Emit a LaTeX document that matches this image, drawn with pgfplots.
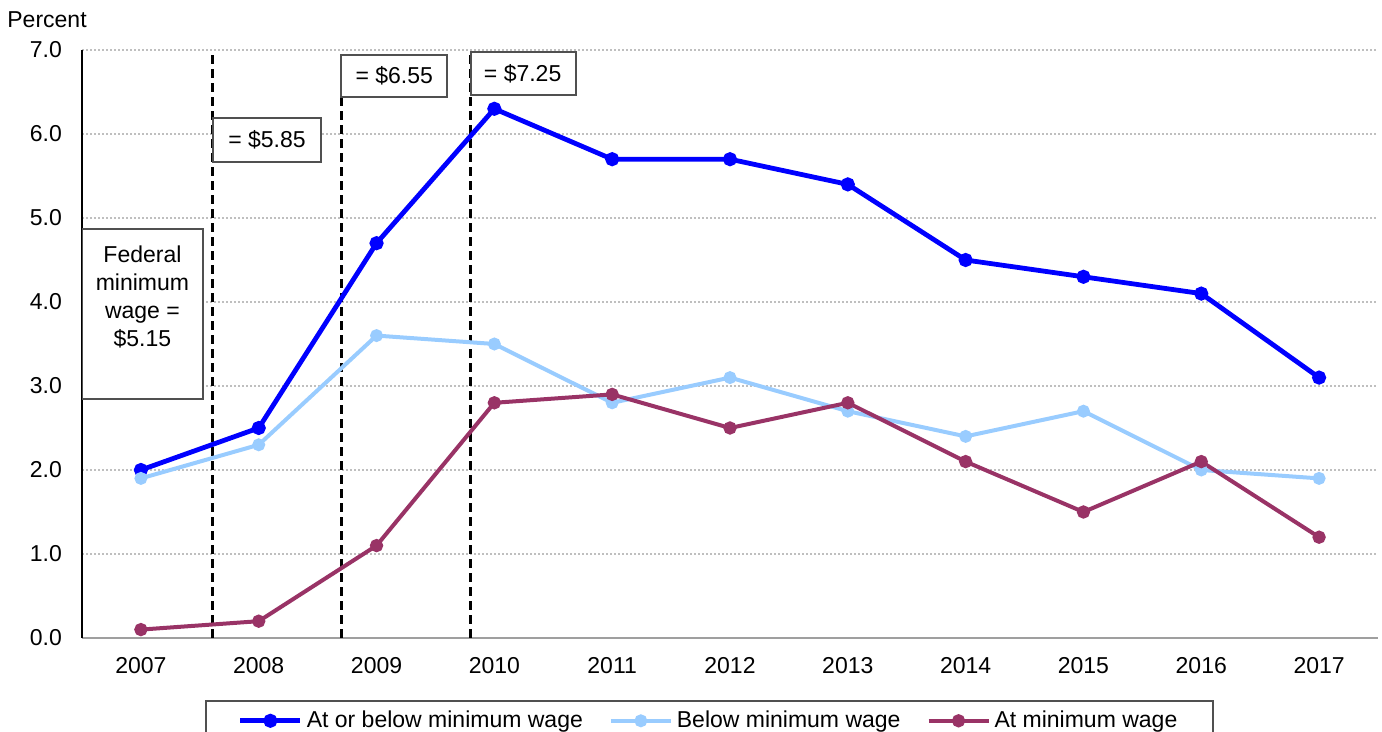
\documentclass[border=0pt]{standalone}
\usepackage{fontspec}
\setmainfont{Liberation Sans}
\usepackage{pgfplots}
\pgfplotsset{compat=1.18}
\definecolor{cblue}{RGB}{0,0,255}
\definecolor{clight}{RGB}{153,204,255}
\definecolor{cplum}{RGB}{153,51,102}
\definecolor{boxgray}{RGB}{80,80,80}
\pgfplotstableread{
year atbelow below at
2007 2.0 1.9 0.1
2008 2.5 2.3 0.2
2009 4.7 3.6 1.1
2010 6.3 3.5 2.8
2011 5.7 2.8 2.9
2012 5.7 3.1 2.5
2013 5.4 2.7 2.8
2014 4.5 2.4 2.1
2015 4.3 2.7 1.5
2016 4.1 2.0 2.1
2017 3.1 1.9 1.2
}\datatable
\begin{document}
\begin{tikzpicture}[font=\fontsize{11.5}{14}\selectfont]
\useasboundingbox (-41pt,-47pt) rectangle (650pt,319pt);
\begin{axis}[
  scale only axis, width=648pt, height=294pt,
  xmin=2006.5, xmax=2017.5, ymin=0, ymax=7,
  axis lines=left,
  x axis line style={draw=gray!75, line width=1.2pt, -},
  y axis line style={draw=black, line width=1pt, -},
  xtick={2007,2008,...,2017},
  ytick={0,1,...,7},
  major tick length=0pt,
  /pgf/number format/assume math mode=true,
  xticklabel style={/pgf/number format/1000 sep={}, yshift=-6pt},
  yticklabel style={/pgf/number format/fixed, /pgf/number format/fixed zerofill, /pgf/number format/precision=1, xshift=-6.5pt},
  ymajorgrids,
  grid style={draw=gray!50, dash pattern=on 1pt off 1pt, line width=0.6pt},
  legend columns=3,
  legend style={at={(rel axis cs:0.0949,-0.1054)}, anchor=north west, draw=boxgray, line width=1pt, inner xsep=16pt, inner ysep=3pt, font=\fontsize{11.5}{14}\selectfont},
  legend cell align=left,
  /tikz/every even column/.append style={column sep=11pt},
  legend image code/.code={\draw[mark repeat=2, mark phase=2, #1] plot coordinates {(0pt,0pt) (15pt,0pt) (30pt,0pt)};},
]
% dashed lines for minimum wage changes
\draw[black, line width=1.4pt, dash pattern=on 4.5pt off 2.5pt] (axis cs:2007.61,0) -- (axis cs:2007.61,7);
\draw[black, line width=1.4pt, dash pattern=on 4.5pt off 2.5pt] (axis cs:2008.70,0) -- (axis cs:2008.70,7);
\draw[black, line width=1.4pt, dash pattern=on 4.5pt off 2.5pt] (axis cs:2009.80,0) -- (axis cs:2009.80,7);
% annotation boxes
\draw[boxgray, fill=white, line width=1pt] (axis cs:2006.5,4.87) rectangle (axis cs:2007.53,2.85);
\node[align=center, inner sep=0pt] at (axis cs:2007.013,4.065) {Federal\\minimum\\wage =\\\$5.15};
\draw[boxgray, fill=white, line width=1pt] (axis cs:2007.61,6.19) rectangle (axis cs:2008.53,5.67);
\node at (axis cs:2008.07,5.93) {= \$5.85};
\draw[boxgray, fill=white, line width=1pt] (axis cs:2008.70,6.94) rectangle (axis cs:2009.60,6.44);
\node at (axis cs:2009.15,6.69) {= \$6.55};
\draw[boxgray, fill=white, line width=1pt] (axis cs:2009.80,6.98) rectangle (axis cs:2010.69,6.46);
\node at (axis cs:2010.24,6.72) {= \$7.25};
% series
\addplot[cblue, line width=2.4pt, mark=*, mark size=2.3pt] table[x=year, y=atbelow] {\datatable};
\addlegendentry{At or below minimum wage}
\addplot[clight, line width=2pt, mark=*, mark size=2.2pt] table[x=year, y=below] {\datatable};
\addlegendentry{Below minimum wage}
\addplot[cplum, line width=2pt, mark=*, mark size=2.3pt] table[x=year, y=at] {\datatable};
\addlegendentry{At minimum wage}
\end{axis}
\node[anchor=base west, inner sep=0pt] at (-37.5pt,305pt) {Percent};
\end{tikzpicture}
\end{document}
